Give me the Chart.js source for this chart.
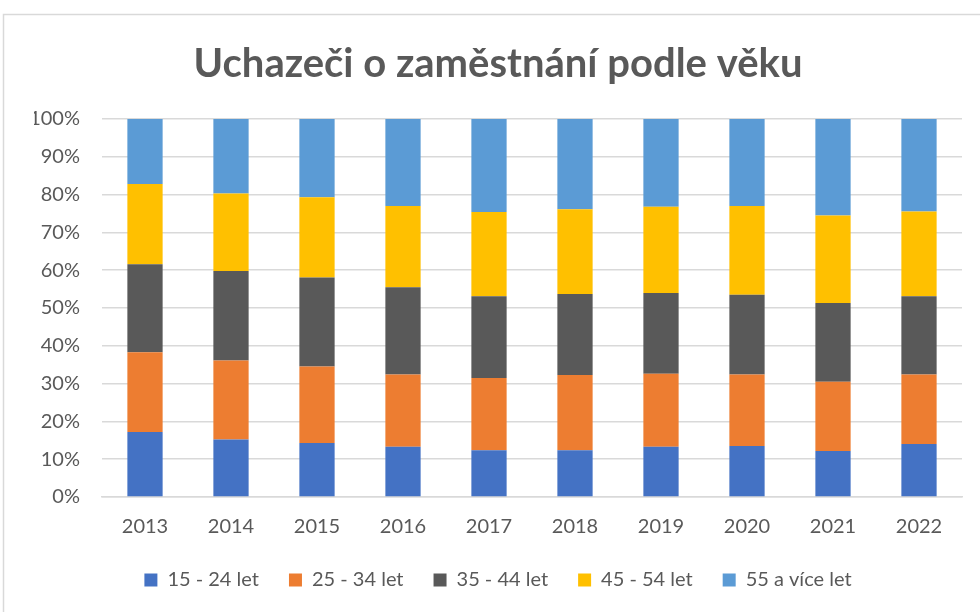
<!DOCTYPE html>
<html>
<head>
<meta charset="utf-8">
<script src="https://cdn.jsdelivr.net/npm/chart.js@4"></script>
<style>
  html, body { margin: 0; padding: 0; background: #fff; }
  #wrap { width: 980px; height: 612px; position: relative; }
</style>
</head>
<body>
<div id="wrap"><canvas id="chart"></canvas></div>
<script>
const YEARS = ['2013', '2014', '2015', '2016', '2017', '2018', '2019', '2020', '2021', '2022'];
const SERIES = ['15 - 24 let', '25 - 34 let', '35 - 44 let', '45 - 54 let', '55 a více let'];

// shares in %
const AGE_15_24 = [17.2, 15.2, 14.3, 13.3, 12.4, 12.4, 13.3, 13.5, 12.2, 14.0];
const AGE_25_34 = [21.1, 20.9, 20.2, 19.1, 19.1, 19.9, 19.3, 18.9, 18.3, 18.4];
const AGE_35_44 = [23.3, 23.7, 23.6, 23.1, 21.6, 21.4, 21.4, 21.1, 20.8, 20.7];
const AGE_45_54 = [21.2, 20.5, 21.2, 21.5, 22.3, 22.4, 22.8, 23.5, 23.2, 22.4];
const AGE_55_UP = [17.2, 19.7, 20.7, 23.0, 24.6, 23.9, 23.2, 23.0, 25.5, 24.5];

const COLORS = ['#4472c4', '#ed7d31', '#595959', '#ffc000', '#5b9bd5'];
const TEXT = '#595959';
const GRID = '#d9d9d9';
const FONT = "Lato, 'Open Sans', sans-serif";

const chartBorder = {
  id: 'chartBorder',
  beforeDraw(chart) {
    const ctx = chart.ctx;
    ctx.save();
    ctx.fillStyle = '#fff';
    ctx.fillRect(0, 0, chart.width, chart.height);
    ctx.strokeStyle = GRID;
    ctx.lineWidth = 1.5;
    ctx.strokeRect(3.5, 14.5, chart.width + 10, chart.height + 10);
    ctx.restore();
  }
};

const data = {
  labels: YEARS,
  datasets: [AGE_15_24, AGE_25_34, AGE_35_44, AGE_45_54, AGE_55_UP].map((values, i) => ({
    label: SERIES[i],
    data: values,
    backgroundColor: COLORS[i],
    borderWidth: 0,
    categoryPercentage: 1,
    barPercentage: 0.41,
  })),
};

new Chart(document.getElementById('chart'), {
  type: 'bar',
  data: data,
  plugins: [chartBorder],
  options: {
    responsive: true,
    maintainAspectRatio: false,
    animation: false,
    layout: { padding: { left: 34, right: 18, top: 14, bottom: 12 } },
    scales: {
      x: {
        stacked: true,
        grid: { display: false },
        border: { color: GRID, width: 1.5 },
        ticks: { color: TEXT, font: { family: FONT, size: 20 }, padding: 10 },
        // pull the legend up closer to the year labels
        afterFit: (scale) => { scale.height -= 9; },
      },
      y: {
        stacked: true,
        min: 0,
        max: 100,
        ticks: {
          stepSize: 10,
          color: TEXT,
          font: { family: FONT, size: 20 },
          padding: 22,
          callback: (v) => v + '%',
        },
        grid: { color: GRID, lineWidth: 1.5, drawTicks: false },
        border: { display: false },
        // fixed axis width so the plot starts at x=102
        afterFit: (scale) => { scale.width = 68; },
      },
    },
    plugins: {
      title: {
        display: true,
        text: 'Uchazeči o zaměstnání podle věku',
        color: TEXT,
        font: { family: FONT, size: 40, weight: 'bold' },
        padding: { top: 26, bottom: 31 },
      },
      legend: {
        position: 'bottom',
        labels: {
          color: TEXT,
          font: { family: FONT, size: 20 },
          boxWidth: 13,
          boxHeight: 13,
          padding: 30,
        },
      },
      tooltip: { enabled: false },
    },
  },
});
</script>
</body>
</html>
